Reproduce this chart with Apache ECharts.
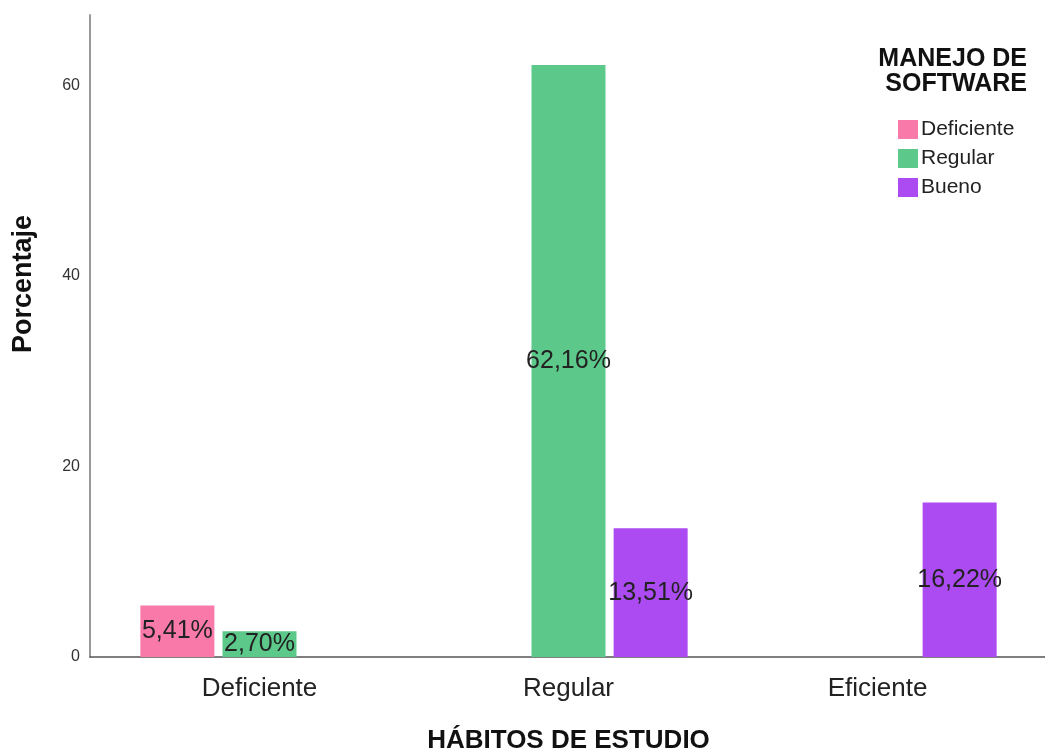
<!DOCTYPE html>
<html>
<head>
<meta charset="utf-8">
<script src="https://cdn.jsdelivr.net/npm/echarts@6/dist/echarts.min.js"></script>
<style>
html, body { margin: 0; padding: 0; background: #fff; }
#chart { width: 1045px; height: 753px; }
</style>
</head>
<body>
<div id="chart"></div>
<script>
var categories = ["Deficiente", "Regular", "Eficiente"];
var seriesNames = ["Deficiente", "Regular", "Bueno"];
var deficienteVals = [5.41, null, null];
var regularVals = [2.70, 62.16, null];
var buenoVals = [null, 13.51, 16.22];
var yTicks = [0, 20, 40, 60];

var font = "'Liberation Sans', Arial, sans-serif";
var colors = ["#f97aa9", "#5cc98b", "#ab4bf1"];

function pct(p) {
	return p.value.toFixed(2).replace(".", ",") + "%";
}

function makeSeries(name, vals, color) {
	return {
		name: name,
		type: "bar",
		xAxisIndex: 1,
		yAxisIndex: 1,
		data: vals,
		barWidth: 74,
		barGap: "11%",
		itemStyle: { color: color },
		label: {
			show: true,
			position: "inside",
			formatter: pct,
			fontFamily: font,
			fontSize: 25,
			color: "#222"
		}
	};
}

var titleStyle = { fontFamily: font, fontSize: 25, fontWeight: "bold", color: "#111" };

var chart = echarts.init(document.getElementById("chart"));
chart.setOption({
	animation: false,
	textStyle: { fontFamily: font },
	title: [
		{ text: "MANEJO DE", right: 13, top: 42, textStyle: titleStyle },
		{ text: "SOFTWARE", right: 13, top: 67, textStyle: titleStyle }
	],
	legend: {
		orient: "vertical",
		left: 893,
		top: 114,
		itemWidth: 20,
		itemHeight: 19,
		itemGap: 8,
		icon: "rect",
		data: seriesNames,
		textStyle: { fontFamily: font, fontSize: 21, color: "#222", padding: [0, 0, 0, -2] }
	},
	graphic: [{
		type: "text",
		left: 10,
		top: 215,
		rotation: Math.PI / 2,
		style: { text: "Porcentaje", font: "bold 27px " + font, fill: "#111" }
	}],
	grid: [
		{ left: 90, right: 0, top: 15, bottom: 96, outerBoundsMode: "none" },
		{ left: 105, right: 13, top: 15, bottom: 96, outerBoundsMode: "none" }
	],
	xAxis: [{
		type: "category",
		gridIndex: 0,
		data: categories,
		axisLine: { show: true, lineStyle: { color: "#555", width: 1.5 } },
		axisTick: { show: false },
		axisLabel: { show: false }
	}, {
		type: "category",
		gridIndex: 1,
		data: categories,
		axisLine: { show: false },
		axisTick: { show: false },
		axisLabel: { fontFamily: font, fontSize: 26, color: "#222", margin: 19 },
		name: "HÁBITOS DE ESTUDIO",
		nameLocation: "middle",
		nameGap: 71,
		nameTextStyle: { fontFamily: font, fontSize: 26, fontWeight: "bold", color: "#111" }
	}],
	yAxis: [{
		type: "value",
		gridIndex: 0,
		min: yTicks[0],
		max: 67.4,
		interval: 20,
		axisLine: { show: true, lineStyle: { color: "#999", width: 2 } },
		axisTick: { show: false },
		splitLine: { show: false },
		axisLabel: { showMaxLabel: false, fontFamily: font, fontSize: 16, color: "#333", margin: 10 }
	}, {
		type: "value",
		gridIndex: 1,
		min: 0,
		max: 67.4,
		show: false,
		splitLine: { show: false }
	}],
	series: [
		makeSeries(seriesNames[0], deficienteVals, colors[0]),
		makeSeries(seriesNames[1], regularVals, colors[1]),
		makeSeries(seriesNames[2], buenoVals, colors[2])
	]
});
</script>
</body>
</html>
